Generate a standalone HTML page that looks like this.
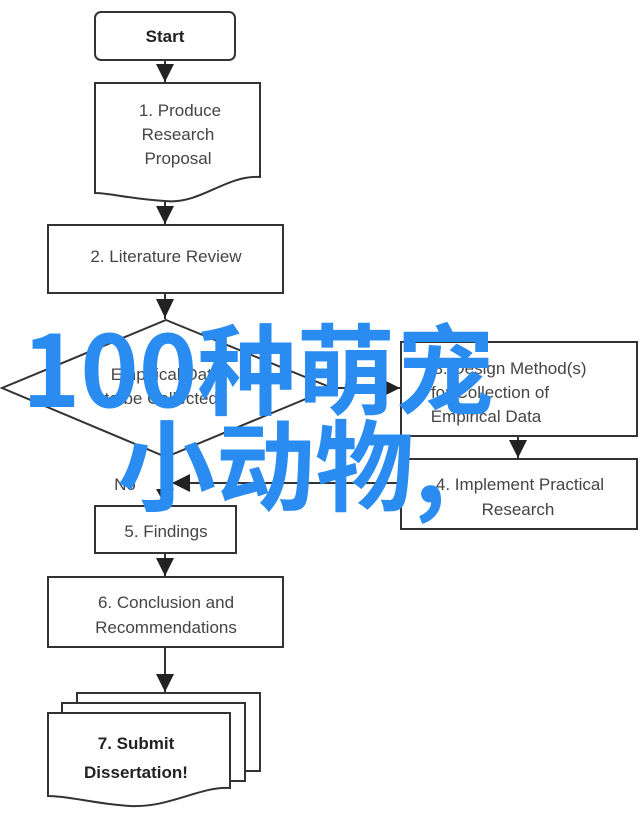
<!DOCTYPE html>
<html><head><meta charset="utf-8"><style>
html,body{margin:0;padding:0;background:#fff;}
svg{display:block}
.t{font-family:"Liberation Sans","DejaVu Sans",sans-serif;font-size:17px;fill:#444;text-anchor:middle}
.b{font-weight:bold;fill:#222}
.cjk{font-family:"Noto Sans CJK SC","WenQuanYi Zen Hei",sans-serif;font-weight:700;font-size:99px;fill:#2a8cf0}
</style></head><body>
<svg width="640" height="814" viewBox="0 0 640 814" xmlns="http://www.w3.org/2000/svg">
<g fill="#fff" stroke="#333" stroke-width="2">
<rect x="95" y="12" width="140" height="48" rx="6"/>
<path d="M95,83 H260 V177 C225,175 200,205 165,201 C130,199 110,193 95,193 Z"/>
<rect x="48" y="225" width="235" height="68"/>
<path d="M166,320 L332,388 L166,457 L2,388 Z"/>
<rect x="401" y="342" width="236" height="94"/>
<rect x="401" y="459" width="236" height="70"/>
<rect x="95" y="506" width="141" height="47"/>
<rect x="48" y="577" width="235" height="70"/>
<rect x="77" y="693" width="183" height="78"/>
<rect x="62" y="703" width="183" height="78"/>
<path d="M48,713 H230 V788 C200,786 170,808 130,806 C95,804 70,796 48,796 Z"/>
</g>
<g stroke="#333" stroke-width="2" fill="none">
<line x1="165" y1="60" x2="165" y2="82"/>
<line x1="165" y1="201" x2="165" y2="224"/>
<line x1="165" y1="293" x2="165" y2="319"/>
<line x1="332" y1="388" x2="400" y2="388"/>
<line x1="518" y1="436" x2="518" y2="458"/>
<line x1="401" y1="483" x2="172" y2="483"/>
<line x1="165" y1="457" x2="165" y2="505"/>
<line x1="165" y1="553" x2="165" y2="576"/>
<line x1="165" y1="647" x2="165" y2="692"/>
</g>
<g fill="#222">
<path d="M156,64 L174,64 L165,82 Z"/>
<path d="M156,206 L174,206 L165,224 Z"/>
<path d="M156,299 L174,299 L165,318 Z"/>
<path d="M382,379 L382,397 L400,388 Z"/>
<path d="M509,440 L527,440 L518,458 Z"/>
<path d="M190,474 L190,492 L172,483 Z"/>
<path d="M156,489 L174,489 L165,505 Z"/>
<path d="M156,558 L174,558 L165,576 Z"/>
<path d="M156,674 L174,674 L165,692 Z"/>
</g>
<text class="t b" x="165" y="42" font-size="18">Start</text>
<text class="t" x="180" y="116">1. Produce</text>
<text class="t" x="178" y="140">Research</text>
<text class="t" x="178" y="164">Proposal</text>
<text class="t" x="166" y="262">2. Literature Review</text>
<text class="t" x="166" y="380">Empirical Data</text>
<text class="t" x="166" y="404">to be Collected?</text>
<text class="t" x="510" y="374">3. Design Method(s)</text>
<text class="t" x="490" y="398">for Collection of</text>
<text class="t" x="486" y="422">Empirical Data</text>
<text class="t" x="520" y="490">4. Implement Practical</text>
<text class="t" x="518" y="515">Research</text>
<text class="t" x="125" y="490">No</text>
<text class="t" x="166" y="537">5. Findings</text>
<text class="t" x="166" y="608">6. Conclusion and</text>
<text class="t" x="166" y="633">Recommendations</text>
<text class="t b" x="136" y="749" font-size="18">7. Submit</text>
<text class="t b" x="136" y="778" font-size="18">Dissertation!</text>
<text class="cjk" x="22" y="407">100种萌宠</text>
<text class="cjk" x="117" y="503">小动物,</text>
</svg>
</body></html>
